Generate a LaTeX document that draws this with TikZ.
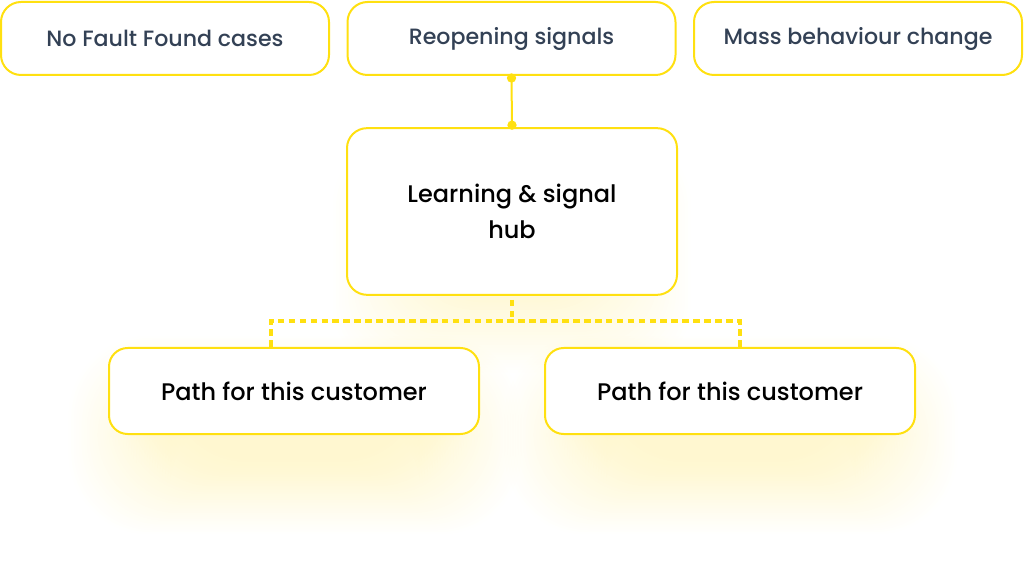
\documentclass[tikz,border=0pt]{standalone}
\usepackage{fontspec}
\setmainfont{Poppins}[UprightFont={* Medium}]
\definecolor{ybord}{HTML}{FFE010}
\definecolor{yglow}{HTML}{FFE45A}
\definecolor{slatetxt}{HTML}{334155}
\begin{document}
\begin{tikzpicture}[x=0.75pt,y=-0.75pt,
  topbox/.style={draw=ybord,line width=1.5pt,fill=white,rounded corners=15pt,
    minimum width=246pt,minimum height=54.75pt,inner sep=0pt,
    font=\fontsize{16.6pt}{20pt}\selectfont,text=slatetxt},
  hubbox/.style={draw=ybord,line width=1.5pt,fill=white,rounded corners=15pt,
    minimum width=247.5pt,minimum height=125pt,inner sep=0pt,align=center,
    font=\fontsize{18pt}{26.5pt}\selectfont,text=black},
  pathbox/.style={draw=ybord,line width=1.5pt,fill=white,rounded corners=14pt,
    minimum width=277.5pt,minimum height=64.5pt,inner sep=0pt,
    font=\fontsize{18pt}{21pt}\selectfont,text=black},
  solidlink/.style={draw=ybord,line width=1.5pt},
  dashlink/.style={draw=ybord,line width=2.4pt,dash pattern=on 5pt off 3.2pt},
  enddot/.style={circle,fill=ybord,inner sep=0pt,minimum size=7pt}]
\useasboundingbox (0,0) rectangle (1024,566);
% glows
\foreach \i in {0,...,39}{
  \fill[yglow,opacity=0.008,rounded corners=60pt]
    (170-2.6*\i,410-1.9*\i) rectangle (420+2.6*\i,460+1.9*\i);
  \fill[yglow,opacity=0.008,rounded corners=60pt]
    (606-2.6*\i,410-1.9*\i) rectangle (856+2.6*\i,460+1.9*\i);
}
\foreach \i in {0,...,29}{
  \fill[yglow,opacity=0.008,rounded corners=50pt]
    (420-3*\i,210-2.5*\i) rectangle (604+3*\i,300+2.5*\i);
}
% nodes
\node[topbox] (nff) at (165,38.5) {No Fault Found cases};
\node[topbox] (reo) at (511.5,38.5) {Reopening signals};
\node[topbox] (mass) at (858,38.5) {Mass behaviour change};
\node[hubbox] (hub) at (512,211.5) {Learning \& signal\\hub};
\node[pathbox] (p1) at (294,391) {Path for this customer};
\node[pathbox] (p2) at (730,391) {Path for this customer};
% connectors
\draw[solidlink] (reo.south) -- (hub.north);
\node[enddot] (d1) at ([yshift=-1.5pt]reo.south) {};
\node[enddot] (d2) at ([yshift=1.5pt]hub.north) {};
\coordinate (s) at ([yshift=-3pt]hub.south);
\coordinate (j) at ([yshift=-19.5pt]hub.south);
\coordinate (jl) at (271,321);
\coordinate (jr) at (740,321);
\draw[dashlink] (s) -- (j);
\draw[dashlink] (p1.north -| jl) -- (jl) -- (jr) -- (p2.north -| jr);
\end{tikzpicture}
\end{document}
